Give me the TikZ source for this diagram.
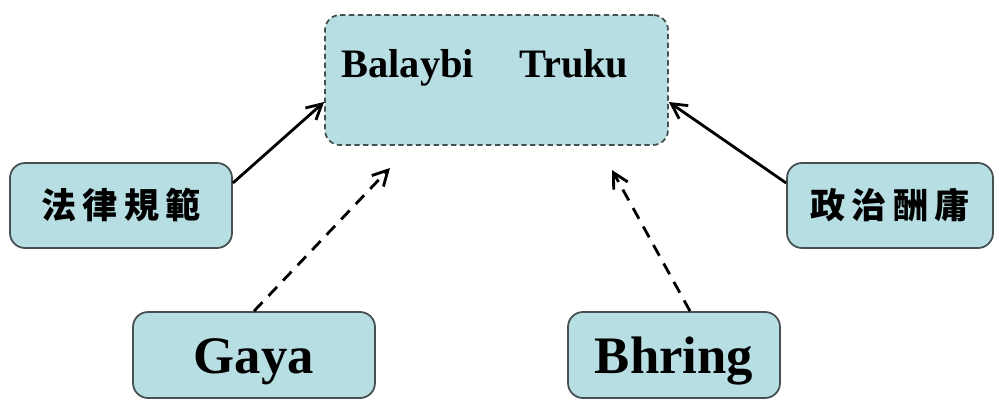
\documentclass[tikz,border=0pt]{standalone}
\usepackage{fontspec}
\usetikzlibrary{arrows.meta}
\setmainfont{Liberation Serif}
\newfontfamily\cjk[LetterSpace=18]{Noto Sans CJK TC}
\definecolor{boxfill}{RGB}{182,222,227}
\definecolor{boxline}{RGB}{70,80,82}
\begin{document}
\begin{tikzpicture}[
    box/.style={draw=boxline, line width=1pt, fill=boxfill, rounded corners=0.3cm},
    pull/.style={line width=1.6pt, -{Straight Barb[length=3mm, width=3.2mm]}},
    hint/.style={pull, dash pattern=on 7pt off 5pt}
  ]

    % Fix the page size
    \useasboundingbox (0,0) rectangle (19.98,8.02);

    % The centre box
    \node[box, dashed, dash pattern=on 3pt off 2pt, minimum width=6.86cm, minimum height=2.6cm] (truku) at (9.93,6.42) {};
    \node[font=\bfseries\fontsize{23}{25}\selectfont] (trukutext) at (9.7,6.66) {Balaybi\hspace{0.9cm}Truku};

    % The two side boxes
    \node[box, minimum width=4.44cm, minimum height=1.7cm, font=\cjk\bfseries\fontsize{20}{22}\selectfont] (law) at (2.42,3.91) {法律規範};
    \node[box, minimum width=4.12cm, minimum height=1.7cm, font=\cjk\bfseries\fontsize{20}{22}\selectfont] (politics) at (17.8,3.91) {政治酬庸};

    % The two bottom boxes
    \node[box, minimum width=4.84cm, minimum height=1.72cm, text height=28pt, font=\bfseries\fontsize{30}{32}\selectfont] (gaya) at (5.08,0.92) {Gaya};
    \node[box, minimum width=4.24cm, minimum height=1.72cm, text height=28pt, font=\bfseries\fontsize{30}{32}\selectfont] (bhring) at (13.48,0.92) {Bhring};

    % Free ends of the dashed arrows
    \coordinate (gayaend) at (7.8,4.66);
    \coordinate (bhringend) at (12.24,4.62);

    % Solid arrows into the centre box
    \draw[pull] ([yshift=0.45cm]law.east) -- ([yshift=-0.44cm]truku.west);
    \draw[pull] ([yshift=0.45cm]politics.west) -- ([yshift=-0.44cm]truku.east);

    % Dashed arrows from the bottom boxes
    \draw[hint] (gaya.north) -- (gayaend);
    \draw[hint] ([xshift=0.32cm]bhring.north) -- (bhringend);

\end{tikzpicture}
\end{document}
